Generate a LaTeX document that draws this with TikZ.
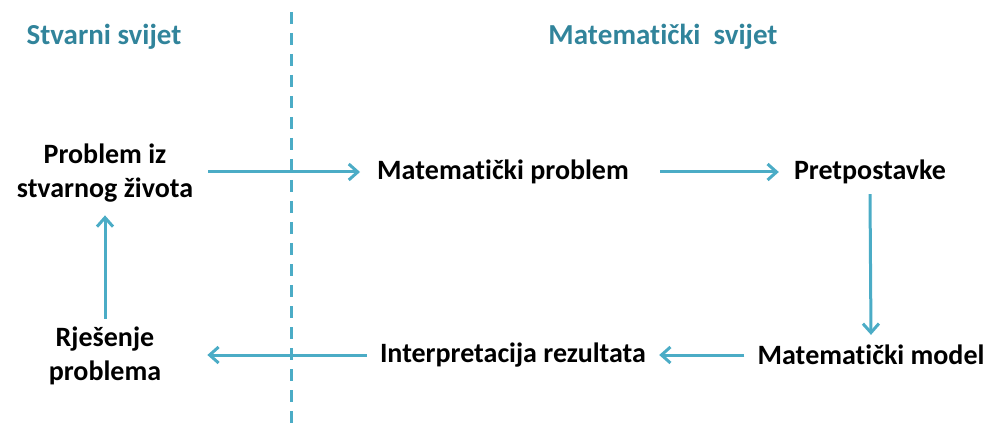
\documentclass[tikz,border=0pt]{standalone}
\usepackage{fontspec}
\setmainfont{Carlito}[Ligatures={NoCommon},RawFeature={-liga;-dlig;-calt}]
\usetikzlibrary{arrows.meta}
\definecolor{titleteal}{HTML}{31849B}
\definecolor{arrowblue}{HTML}{4BACC6}
\newcommand{\matword}{Mat\kern0pt{}emat\kern0pt{}i\kern0pt{}čki}
\begin{document}
\begin{tikzpicture}[x=1pt,y=-1pt,
  lbl/.style={font=\fontsize{28}{34}\selectfont\bfseries, inner sep=0pt, align=center, text=black},
  ttl/.style={font=\fontsize{29}{34}\selectfont\bfseries, inner sep=0pt, text=titleteal},
  arr/.style={draw=arrowblue, line width=3pt, -{Straight Barb[length=9pt,width=16pt,line width=3pt]}},
  divider/.style={draw=arrowblue, line width=3pt, dash pattern=on 12pt off 9pt}]
\useasboundingbox (0,0) rectangle (989,425);
\node[ttl] (t1) at (104,37) {Stvarni svijet};
\node[ttl] (t2) at (663,37) {\matword\ \ svijet};
\coordinate (dtop) at (291,12);
\coordinate (dbot) at (291,425);
\draw[divider] (dtop) -- (dbot);
\node[lbl] (piz) at (105,173) {Problem iz\\stvarnog života};
\node[lbl] (mp) at (503,172) {\matword{} problem};
\node[lbl] (pre) at (870,172) {Pretpostavke};
\node[lbl] (mm) at (871,355) {\matword{} model};
\node[lbl] (ir) at (513,355) {Interpretacija rezultata};
\node[lbl] (rp) at (105,356) {Rješenje\\problema};
\draw[arr] ([xshift=15pt]piz.east |- mp.center) -- ([xshift=-17pt]mp.west);
\draw[arr] ([xshift=31pt]mp.east) -- ([xshift=-15pt]pre.west);
\draw[arr] ([yshift=-10pt]pre.south) -- ([yshift=10pt]mm.north);
\draw[arr] ([xshift=-13pt]mm.west) -- ([xshift=13pt]ir.east);
\draw[arr] ([xshift=-13pt]ir.west) -- ([xshift=46pt]rp.east |- ir.center);
\draw[arr] ([yshift=8pt]rp.north) -- ([yshift=-13pt]piz.south);
\end{tikzpicture}
\end{document}
